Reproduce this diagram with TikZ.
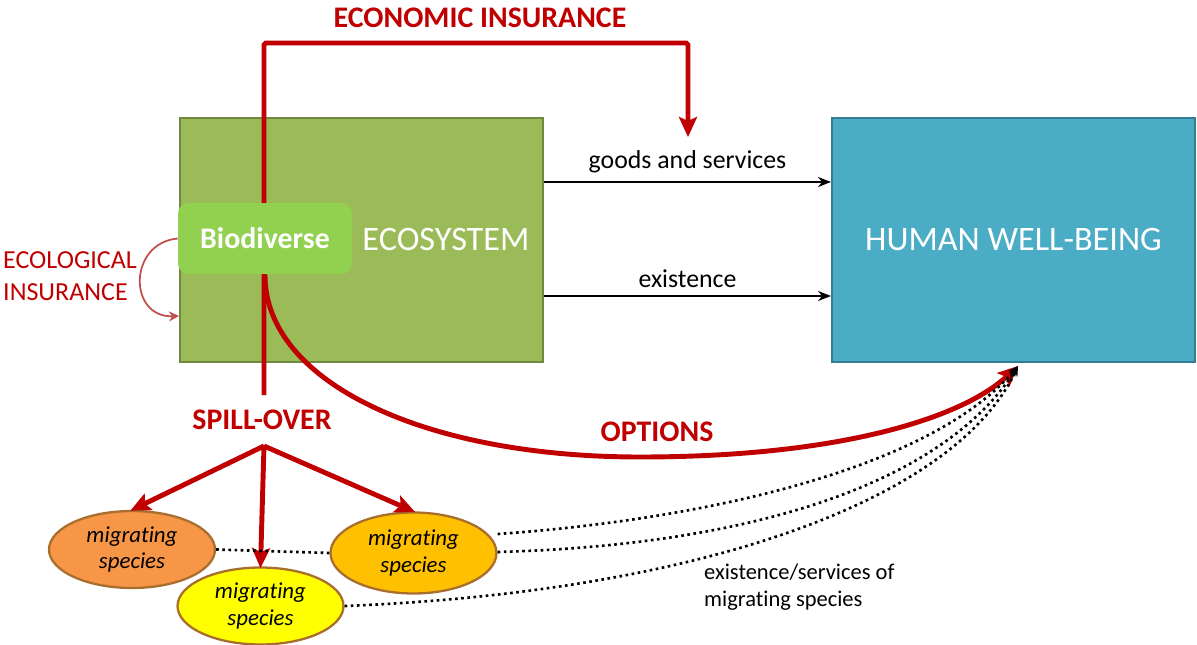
\documentclass[tikz,border=0pt]{standalone}
\usepackage{fontspec}
\setmainfont{Carlito}[Ligatures=NoCommon]
\usepackage{xcolor}
\usepackage{tikz}
\usetikzlibrary{
  shapes.geometric,
  arrows.meta,
  positioning
}
\definecolor{ecogreen}{HTML}{9BBB59}
\definecolor{ecoborder}{HTML}{71893F}
\definecolor{biogreen}{HTML}{92D050}
\definecolor{hwbblue}{HTML}{4BACC6}
\definecolor{hwbborder}{HTML}{357D91}
\definecolor{insred}{HTML}{C00000}
\definecolor{softred}{HTML}{C0504D}
\definecolor{migorange}{HTML}{F79646}
\definecolor{migamber}{HTML}{FFC000}
\definecolor{migyellow}{HTML}{FFFF00}
\definecolor{migborder}{HTML}{A86E2E}
\tikzstyle{bigbox} = [
  rectangle, line width=1.2pt, minimum width=7.26cm, minimum height=4.88cm,
  inner sep=0pt, text=white, font=\fontsize{19.5}{22}\selectfont
]
\tikzstyle{biobox} = [
  rectangle, rounded corners=6pt, fill=biogreen, minimum width=3.48cm,
  minimum height=1.42cm, text=white, font=\fontsize{17}{20}\selectfont\bfseries
]
\tikzstyle{migbox} = [
  ellipse, draw=migborder, line width=1.3pt, minimum width=3.32cm,
  minimum height=1.54cm, inner sep=0pt, align=center,
  font=\fontsize{13}{15.3}\selectfont\itshape
]
\tikzstyle{redlabel} = [text=insred, font=\fontsize{17}{20}\selectfont\bfseries]
\tikzstyle{redarrow} = [-{Stealth[length=4mm, width=3.6mm, inset=0.8mm]}, line width=2.8pt, draw=insred]
\tikzstyle{flowarrow} = [-{Stealth[length=2.6mm, width=2mm]}, line width=1.1pt]
\tikzstyle{migarrow} = [-{Stealth[length=2mm, width=1.6mm]}, line width=1.5pt, dotted]

\begin{document}
\begin{tikzpicture}[x=0.02cm, y=-0.02cm]
\useasboundingbox (0,0) rectangle (1197,645);

% --- Boxes ---
\node[bigbox, fill=ecogreen, draw=ecoborder] (eco) at (361.5,240) {};
\node[bigbox, fill=hwbblue, draw=hwbborder] (hwb) at (1013.5,240) {HUMAN WELL-BEING};
\node[text=white, font=\fontsize{19.5}{22}\selectfont] (ecolbl) at (446,240) {ECOSYSTEM};

% --- Economic insurance loop ---
\coordinate (stem) at (264,395);
\coordinate (goods) at (688,137);
\draw[redarrow, rounded corners=1pt] (stem) -- (264,43) -| (goods);
\node[redlabel] (econ) at (480,18) {ECONOMIC INSURANCE};

\node[biobox] (bio) at (265,238.5) {Biodiverse};

% --- Flows to well-being ---
\draw[flowarrow] (eco.east |- 0,182) -- (hwb.west |- 0,182)
  node[midway, above=1pt, font=\fontsize{14.7}{17}\selectfont] (goodslbl) {goods and services};
\draw[flowarrow] (eco.east |- 0,296) -- (hwb.west |- 0,296)
  node[midway, above=1pt, font=\fontsize{14.7}{17}\selectfont] (existlbl) {existence};

% --- Ecological insurance ---
\node[anchor=west, align=left, text=insred, font=\fontsize{14.8}{18}\selectfont] (ecolog) at (-3,276) {ECOLOGICAL\\INSURANCE};
\draw[-{Stealth[length=2mm, width=2mm]}, line width=1pt, draw=softred]
  (bio.west) .. controls (128,243) and (128,318) .. (eco.west |- 0,316);

% --- Options ---
\coordinate (hwbfoot) at (1018,366);
\draw[redarrow] (bio.south) .. controls (264,380) and (420,457) .. (640,457)
  .. controls (840,457) and (962,418) .. (hwbfoot);
\node[redlabel] (options) at (657,432) {OPTIONS};

% --- Spill-over ---
\node[redlabel] (spill) at (262,420) {SPILL-OVER};
\coordinate (fork) at (264,446);
\node[migbox, fill=migorange] (mig1) at (132,549.5) {migrating\\species};
\node[migbox, fill=migamber, minimum height=1.62cm] (mig3) at (413.5,553) {migrating\\species};
\node[migbox, fill=migyellow] (mig2) at (260.5,606) {migrating\\species};
\draw[redarrow, shorten >=-1pt] (fork) -- (mig1.north);
\draw[redarrow, shorten >=-1pt] (fork) -- (mig2.north);
\draw[redarrow, shorten >=-1pt] (fork) -- (mig3.north);

% --- Migrating species to well-being ---
\draw[line width=1.5pt, dotted] (mig1.east) -- (mig3.west);
\draw[migarrow] (mig3.east |- 0,534) .. controls (700,520) and (930,470) .. (hwbfoot);
\draw[migarrow] (mig3.east |- 0,552) .. controls (760,545) and (945,480) .. (hwbfoot);
\draw[migarrow] (mig2.east) .. controls (700,592) and (955,500) .. (hwbfoot);
\node[anchor=west, align=left, font=\fontsize{12.8}{15.3}\selectfont] (miglbl) at (698,587) {existence/services of\\migrating species};

\end{tikzpicture}
\end{document}
